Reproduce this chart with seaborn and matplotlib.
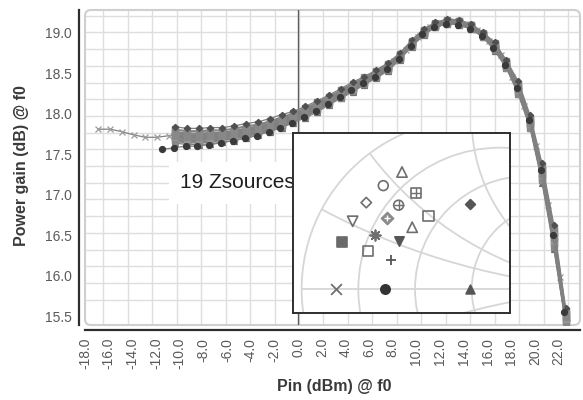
import matplotlib
matplotlib.use('Agg')
import numpy as np
import matplotlib.pyplot as plt
from matplotlib.patches import Circle, FancyBboxPatch
from matplotlib.ticker import FixedLocator
import seaborn as sns


# Pin sweeps (dBm @ f0)
pin_main = [-10.4, -9.4, -8.4, -7.4, -6.4, -5.4, -4.4, -3.4, -2.4, -1.4, -0.4,
            0.6, 1.6, 2.6, 3.6, 4.6, 5.6, 6.6, 7.6, 8.6, 9.6, 10.6, 11.6, 12.6,
            13.6, 14.6, 15.6, 16.6, 17.6, 18.6, 19.6, 20.6, 21.6, 22.6]
pin_x = [-16.9, -15.9, -14.9, -13.9, -12.9, -11.9, -10.9, -9.9, -8.9, -7.9,
         -6.9, -5.9, -4.9, -3.9, -2.9, -1.9, -0.9, 0.1, 1.1, 2.1, 3.1, 4.1,
         5.1, 6.1, 7.1, 8.1, 9.1, 10.1, 11.1, 12.1, 13.1, 14.1, 15.1, 16.1,
         17.1, 18.1, 19.1, 20.1, 21.1, 22.1, 22.7]
pin_dot = [-11.5, -10.5, -9.5, -8.5, -7.5, -6.5, -5.5, -4.5, -3.5, -2.5, -1.5,
           -0.5, 0.5, 1.5, 2.5, 3.5, 4.5, 5.5, 6.5, 7.5, 8.5, 9.5, 10.5, 11.5,
           12.5, 13.5, 14.5, 15.5, 16.5, 17.5, 18.5, 19.5, 20.5, 21.5, 22.5]

# power gain (dB @ f0) of the 19 source impedances
g_tri_up = [17.77, 17.75, 17.75, 17.76, 17.77, 17.79, 17.82, 17.84, 17.88, 17.93, 17.99, 18.05, 18.12, 18.19, 18.27, 18.35, 18.43,
            18.51, 18.60, 18.72, 18.88, 19.02, 19.11, 19.15, 19.14, 19.09, 18.99, 18.85, 18.63, 18.34, 17.92, 17.31, 16.53, 15.53]
g_circle = [17.75, 17.73, 17.73, 17.74, 17.75, 17.77, 17.80, 17.82, 17.86, 17.91, 17.97, 18.03, 18.10, 18.18, 18.26, 18.34, 18.42,
            18.50, 18.59, 18.71, 18.87, 19.01, 19.10, 19.14, 19.13, 19.08, 18.98, 18.84, 18.62, 18.32, 17.90, 17.29, 16.50, 15.51]
g_boxplus = [17.70, 17.68, 17.68, 17.69, 17.70, 17.72, 17.75, 17.78, 17.82, 17.87, 17.94, 18.00, 18.07, 18.15, 18.23, 18.31, 18.39,
             18.47, 18.56, 18.69, 18.85, 18.99, 19.08, 19.12, 19.11, 19.06, 18.96, 18.81, 18.59, 18.28, 17.86, 17.23, 16.42, 15.46]
g_diamond = [17.78, 17.76, 17.76, 17.77, 17.77, 17.79, 17.82, 17.85, 17.89, 17.94, 17.99, 18.05, 18.12, 18.20, 18.28, 18.36, 18.43,
             18.51, 18.60, 18.72, 18.88, 19.02, 19.11, 19.15, 19.14, 19.09, 18.99, 18.85, 18.63, 18.35, 17.93, 17.32, 16.54, 15.54]
g_oplus = [17.72, 17.70, 17.70, 17.71, 17.72, 17.74, 17.77, 17.80, 17.84, 17.89, 17.95, 18.01, 18.08, 18.16, 18.24, 18.32, 18.40,
           18.48, 18.57, 18.70, 18.86, 19.00, 19.09, 19.13, 19.12, 19.07, 18.97, 18.82, 18.60, 18.30, 17.88, 17.25, 16.45, 15.48]
g_sq_slash = [17.68, 17.66, 17.66, 17.67, 17.68, 17.70, 17.73, 17.77, 17.81, 17.86, 17.92, 17.98, 18.05, 18.14, 18.22, 18.30, 18.38,
              18.46, 18.55, 18.68, 18.84, 18.98, 19.08, 19.12, 19.11, 19.06, 18.96, 18.80, 18.58, 18.27, 17.85, 17.20, 16.39, 15.44]
g_dk_diamond = [17.84, 17.82, 17.82, 17.83, 17.83, 17.85, 17.88, 17.90, 17.94, 17.99, 18.03, 18.09, 18.16, 18.23, 18.31, 18.39, 18.46,
                18.54, 18.63, 18.75, 18.91, 19.05, 19.13, 19.17, 19.16, 19.11, 19.01, 18.88, 18.66, 18.40, 17.98, 17.39, 16.63, 15.60]
g_tri_down = [17.80, 17.78, 17.78, 17.79, 17.79, 17.81, 17.84, 17.86, 17.90, 17.95, 18.01, 18.07, 18.14, 18.21, 18.29, 18.37, 18.44,
              18.52, 18.61, 18.73, 18.89, 19.03, 19.11, 19.15, 19.14, 19.09, 18.99, 18.86, 18.64, 18.36, 17.94, 17.35, 16.57, 15.56]
g_dplus = [17.74, 17.72, 17.72, 17.73, 17.74, 17.76, 17.79, 17.82, 17.86, 17.91, 17.96, 18.02, 18.09, 18.17, 18.25, 18.33, 18.41,
           18.49, 18.58, 18.71, 18.87, 19.01, 19.10, 19.14, 19.13, 19.08, 18.98, 18.83, 18.61, 18.32, 17.90, 17.27, 16.48, 15.50]
g_tri_up2 = [17.69, 17.67, 17.67, 17.68, 17.69, 17.71, 17.74, 17.78, 17.82, 17.87, 17.93, 17.99, 18.06, 18.14, 18.22, 18.30, 18.38,
             18.46, 18.55, 18.69, 18.85, 18.99, 19.08, 19.12, 19.11, 19.06, 18.96, 18.80, 18.58, 18.28, 17.86, 17.21, 16.40, 15.45]
g_star = [17.76, 17.74, 17.74, 17.75, 17.76, 17.78, 17.81, 17.83, 17.87, 17.92, 17.98, 18.04, 18.11, 18.18, 18.26, 18.34, 18.42,
          18.50, 18.59, 18.72, 18.88, 19.02, 19.10, 19.14, 19.13, 19.08, 18.98, 18.84, 18.62, 18.33, 17.91, 17.30, 16.51, 15.52]
g_tri_down_f = [17.67, 17.65, 17.65, 17.66, 17.68, 17.70, 17.73, 17.76, 17.80, 17.85, 17.91, 17.97, 18.04, 18.13, 18.21, 18.29, 18.37,
                18.45, 18.54, 18.68, 18.84, 18.98, 19.07, 19.11, 19.10, 19.05, 18.95, 18.80, 18.58, 18.26, 17.84, 17.19, 16.37, 15.43]
g_square_f = [17.66, 17.64, 17.64, 17.65, 17.67, 17.69, 17.72, 17.75, 17.79, 17.84, 17.91, 17.97, 18.04, 18.12, 18.20, 18.28, 18.37,
              18.45, 18.54, 18.68, 18.84, 18.98, 19.07, 19.11, 19.10, 19.05, 18.95, 18.79, 18.57, 18.25, 17.83, 17.18, 16.36, 15.42]
g_square = [17.71, 17.69, 17.69, 17.70, 17.71, 17.73, 17.76, 17.79, 17.83, 17.88, 17.94, 18.00, 18.07, 18.15, 18.23, 18.31, 18.40,
            18.48, 18.57, 18.70, 18.86, 19.00, 19.09, 19.13, 19.12, 19.07, 18.97, 18.82, 18.60, 18.29, 17.87, 17.24, 16.43, 15.47]
g_plus = [17.73, 17.71, 17.71, 17.72, 17.73, 17.75, 17.78, 17.81, 17.85, 17.90, 17.96, 18.02, 18.09, 18.17, 18.25, 18.33, 18.40,
          18.48, 18.57, 18.70, 18.86, 19.00, 19.09, 19.13, 19.12, 19.07, 18.97, 18.82, 18.60, 18.31, 17.89, 17.26, 16.47, 15.49]
g_cross = [17.81, 17.81, 17.78, 17.74, 17.71, 17.71, 17.73, 17.74, 17.73, 17.73, 17.74, 17.76, 17.78, 17.81, 17.85, 17.89, 17.94,
           18.00, 18.07, 18.14, 18.22, 18.30, 18.38, 18.46, 18.54, 18.65, 18.79, 18.95, 19.07, 19.12, 19.14, 19.11, 19.03, 18.90,
           18.72, 18.46, 18.10, 17.60, 16.88, 15.98, 15.42]
g_dot = [17.56, 17.58, 17.60, 17.60, 17.62, 17.64, 17.67, 17.70, 17.73, 17.78, 17.83, 17.89, 17.96, 18.04, 18.12, 18.21, 18.29,
         18.38, 18.46, 18.55, 18.68, 18.84, 18.98, 19.07, 19.11, 19.10, 19.05, 18.96, 18.81, 18.60, 18.32, 17.92, 17.30, 16.50, 15.55]
g_tri_up_f = [17.64, 17.62, 17.62, 17.63, 17.65, 17.67, 17.70, 17.74, 17.78, 17.83, 17.89, 17.95, 18.02, 18.11, 18.19, 18.27, 18.36,
              18.44, 18.53, 18.67, 18.83, 18.97, 19.07, 19.11, 19.10, 19.05, 18.95, 18.78, 18.56, 18.24, 17.82, 17.15, 16.33, 15.40]
g_grey_sq = [17.81, 17.79, 17.79, 17.80, 17.80, 17.82, 17.85, 17.87, 17.91, 17.96, 18.01, 18.07, 18.14, 18.21, 18.29, 18.37, 18.45,
             18.53, 18.62, 18.74, 18.90, 19.04, 19.12, 19.16, 19.15, 19.10, 19.00, 18.87, 18.65, 18.37, 17.95, 17.36, 16.59, 15.57]

# source reflection coefficients shown on the Smith chart inset
zs_re = [-0.41, -0.52, -0.33, -0.62, -0.43, -0.255, -0.01, -0.70, -0.50,
         -0.35, -0.57, -0.43, -0.76, -0.61, -0.475, -0.80, -0.51, -0.01]
zs_im = [0.69, 0.61, 0.565, 0.51, 0.495, 0.43, 0.50, 0.40, 0.42,
         0.365, 0.32, 0.285, 0.28, 0.225, 0.17, 0.0, 0.0, 0.0]

x_ticks = [-18, -16, -14, -12, -10, -8, -6, -4, -2, 0, 2, 4, 6, 8, 10, 12, 14, 16, 18, 20, 22]
y_ticks = [15.5, 16.0, 16.5, 17.0, 17.5, 18.0, 18.5, 19.0]

GREY = '#888888'
LGREY = '#979797'
DARK = '#505050'

# (pin, gain, marker, face, edge, size) -- drawn in this order
series = [
    (pin_main, g_tri_up_f, '^', '#6e6e6e', '#6e6e6e', 4.5),
    (pin_main, g_tri_down_f, 'v', '#6e6e6e', '#6e6e6e', 4.5),
    (pin_x, g_cross, 'x', '#9c9c9c', '#9c9c9c', 4.5),
    (pin_main, g_tri_down, 's', LGREY, LGREY, 4.5),
    (pin_main, g_tri_up, 's', GREY, GREY, 4.5),
    (pin_main, g_circle, 'o', LGREY, LGREY, 4.5),
    (pin_main, g_boxplus, 's', GREY, GREY, 4.5),
    (pin_main, g_diamond, 's', LGREY, LGREY, 4.5),
    (pin_main, g_oplus, 'o', GREY, GREY, 4.5),
    (pin_main, g_sq_slash, 's', GREY, GREY, 4.5),
    (pin_main, g_dplus, 's', LGREY, LGREY, 4.5),
    (pin_main, g_tri_up2, 's', GREY, GREY, 4.5),
    (pin_main, g_star, 's', LGREY, LGREY, 4.5),
    (pin_main, g_square_f, 's', GREY, GREY, 4.5),
    (pin_main, g_square, 's', LGREY, LGREY, 4.5),
    (pin_main, g_plus, 's', GREY, GREY, 4.5),
    (pin_main, g_grey_sq, 's', GREY, GREY, 4.5),
    (pin_main, g_dk_diamond, 'D', DARK, DARK, 3.2),
    (pin_dot, g_dot, 'o', '#3a3a3a', '#3a3a3a', 4.3),
]

sns.set_style('white')
plt.rcParams['font.family'] = ['Liberation Sans', 'DejaVu Sans']
plt.rcParams['axes.unicode_minus'] = False

fig = plt.figure(figsize=(5.83, 4.0), dpi=100)
ax = fig.add_axes([85 / 583, 75 / 400, 495 / 583, 315 / 400])

for pin, gain, mk, fc, ec, ms in series:
    sns.lineplot(x=pin, y=gain, ax=ax, color='#808080', linewidth=0.9, marker=mk,
                 markersize=ms, markerfacecolor=fc, markeredgecolor=ec,
                 markeredgewidth=0.9, errorbar=None, legend=False, zorder=3)

ax.axvline(0, color='#5e5e5e', lw=1.0, zorder=2)

ax.set_xlim(-18, 23.81)
ax.set_ylim(15.393, 19.281)
ax.set_xticks(x_ticks)
ax.set_xticklabels([f'{v:.1f}' for v in x_ticks])
ax.set_yticks(y_ticks)
ax.set_yticklabels([f'{v:.1f}' for v in y_ticks])

# background grid does not sit on the tick positions in the original
ax.xaxis.set_minor_locator(FixedLocator(np.linspace(-16.45, 22.8, 20)))
ax.yaxis.set_minor_locator(FixedLocator(np.linspace(15.5, 19.21, 19)))
ax.grid(which='minor', color='#dedede', lw=1.0)
ax.grid(which='major', visible=False)
ax.tick_params(which='minor', length=0)
ax.tick_params(which='major', direction='out', length=3, width=1.1, color='#333333',
               labelsize=10, labelcolor='#5a5a5a', pad=2.5)
ax.tick_params(axis='x', which='major', labelrotation=90)
ax.set_axisbelow(True)

for s in ['top', 'right']:
    ax.spines[s].set_visible(False)
for s in ['left', 'bottom']:
    ax.spines[s].set_color('#2e2e2e')
    ax.spines[s].set_linewidth(1.6)
ax.spines['left'].set_position(('outward', 4))
ax.spines['bottom'].set_position(('outward', 3.6))

ax.add_patch(FancyBboxPatch((0, 0), 1, 1, boxstyle='round,pad=0,rounding_size=0.012',
                            mutation_aspect=495 / 315, transform=ax.transAxes,
                            fc='none', ec='#cfcfcf', lw=1.5, clip_on=False, zorder=1))

ax.set_xlabel('Pin (dBm) @ f0', fontsize=11.5, fontweight='bold', color='#3a3a3a')
ax.set_ylabel('Power gain (dB) @ f0', fontsize=11.5, fontweight='bold', color='#3a3a3a')
ax.xaxis.set_label_coords(0.503, -0.172)
ax.yaxis.set_label_coords(-0.113, 0.505)

ax.text(180 / 583, 1 - 183 / 400, '19 Zsources', transform=fig.transFigure,
        fontsize=15, va='center', ha='left', color='#1e1e1e', zorder=6,
        bbox=dict(boxstyle='square,pad=0.55', fc='white', ec='none'))

# Smith chart inset with the source impedances
axi = fig.add_axes([293.3 / 583, 87.3 / 400, 216.7 / 583, 179.4 / 400])
axi.set_zorder(5)
axi.set_xlim(-1.049, 0.225)
axi.set_ylim(-0.138, 0.918)
axi.set_xticks([])
axi.set_yticks([])
for s in axi.spines.values():
    s.set_color('#2e2e2e')
    s.set_linewidth(1.4)

grid_c = '#d6d6d6'
axi.add_patch(Circle((0, 0), 1, fill=False, ec=grid_c, lw=1.3))
for r in [0.2, 0.5, 1.0, 2.0]:
    axi.add_patch(Circle((r / (1 + r), 0), 1 / (1 + r), fill=False, ec=grid_c, lw=1.3))
unit = Circle((0, 0), 1, transform=axi.transData)
for xr in [0.25, 0.5, 1.0, -0.25, -0.5, -1.0]:
    arc = Circle((1, 1 / xr), abs(1 / xr), fill=False, ec=grid_c, lw=1.3)
    axi.add_patch(arc)
    arc.set_clip_path(unit)
axi.plot([-1, 1], [0, 0], color=grid_c, lw=1.3)

ZO = '#6e6e6e'
zs_style = [
    ('^', 'none', ZO, 55), ('o', 'none', ZO, 50), ('s', 'none', ZO, 50),
    ('D', 'none', ZO, 28), ('o', 'none', ZO, 50), ('s', 'none', ZO, 55),
    ('D', '#555555', '#555555', 25), ('v', 'none', ZO, 55), ('D', '#8a8a8a', '#8a8a8a', 38),
    ('^', 'none', ZO, 55), ((8, 2, 0), ZO, ZO, 55), ('v', '#555555', '#555555', 45),
    ('s', '#6a6a6a', '#6a6a6a', 45), ('s', 'none', ZO, 55), ('+', '#555555', '#555555', 60),
    ('x', '#707070', '#707070', 60), ('o', '#333333', '#333333', 45), ('^', '#555555', '#555555', 40),
]
for re_, im_, (mk, fc, ec, sz) in zip(zs_re, zs_im, zs_style):
    if mk in ['+', 'x'] or isinstance(mk, tuple):
        sns.scatterplot(x=[re_], y=[im_], ax=axi, marker=mk, color=ec, s=sz,
                        linewidth=1.3, legend=False, zorder=4)
    else:
        sns.scatterplot(x=[re_], y=[im_], ax=axi, marker=mk, facecolor=fc,
                        edgecolor=ec, s=sz, linewidth=1.2, legend=False, zorder=4)
# inner crosses of the boxed-plus, circled-plus and plus-diamond symbols
for i, sz, c in [(2, 45, ZO), (4, 45, ZO), (8, 22, 'white')]:
    sns.scatterplot(x=[zs_re[i]], y=[zs_im[i]], ax=axi, marker='+', color=c, s=sz,
                    linewidth=1.0, legend=False, zorder=5)

fig.savefig('out.png', dpi=100)
